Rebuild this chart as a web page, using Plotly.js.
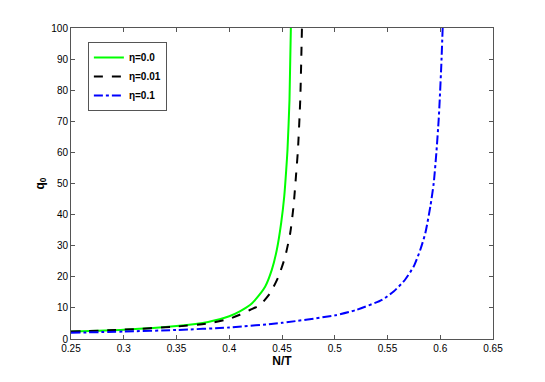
<!DOCTYPE html>
<html>
<head>
<meta charset="utf-8">
<script src="https://cdn.plot.ly/plotly-3.0.1.min.js"></script>
<style>
  html, body { margin: 0; padding: 0; background: #fff; }
  #plot { width: 545px; height: 382px; }
</style>
</head>
<body>
<div id="plot"></div>
<script>
// eta = 0.0
var xEta0 = [0.25, 0.30, 0.35, 0.38, 0.40, 0.41, 0.42, 0.4246, 0.4341, 0.4404, 0.4451, 0.4492, 0.4521, 0.4540, 0.4552, 0.4571, 0.4584];
var yEta0 = [2.4, 3.0, 4.2, 5.5, 7.3, 8.9, 11.0, 12.6, 16.9, 22.3, 28.7, 37.3, 45.8, 54.4, 60.8, 76.9, 100];

// eta = 0.01
var xEta001 = [0.25, 0.30, 0.35, 0.38, 0.40, 0.41, 0.42, 0.4293, 0.4388, 0.4467, 0.4530, 0.4578, 0.4609, 0.4632, 0.4651, 0.4673, 0.4689];
var yEta001 = [2.4, 3.0, 4.0, 5.0, 6.5, 7.8, 9.4, 11.0, 14.8, 20.1, 26.5, 34.1, 42.6, 52.2, 60.8, 76.9, 100];

// eta = 0.1
var xEta01 = [0.25, 0.30, 0.35, 0.40, 0.45, 0.50, 0.52, 0.5448, 0.5558, 0.5653, 0.5748, 0.5811, 0.5859, 0.5906, 0.5938, 0.5963, 0.5985, 0.5995, 0.6010, 0.6023];
var yEta01 = [2.0, 2.4, 2.9, 3.7, 5.2, 7.6, 9.3, 12.6, 15.3, 18.5, 23.3, 28.7, 34.1, 42.6, 50.1, 59.8, 70.5, 76.9, 88.0, 100];

var xTicks = [0.25, 0.3, 0.35, 0.4, 0.45, 0.5, 0.55, 0.6, 0.65];
var xTickText = ['0.25', '0.3', '0.35', '0.4', '0.45', '0.5', '0.55', '0.6', '0.65'];
var yTicks = [0, 10, 20, 30, 40, 50, 60, 70, 80, 90, 100];

var traces = [
  { x: xEta0, y: yEta0, type: 'scatter', mode: 'lines', name: '<b>η=0.0</b>',
    line: { color: 'rgb(0,255,0)', width: 2, shape: 'spline', smoothing: 0.6 } },
  { x: xEta001, y: yEta001, type: 'scatter', mode: 'lines', name: '<b>η=0.01</b>',
    line: { color: 'black', width: 2, dash: 'dash', shape: 'spline', smoothing: 0.6 } },
  { x: xEta01, y: yEta01, type: 'scatter', mode: 'lines', name: '<b>η=0.1</b>',
    line: { color: 'rgb(0,0,255)', width: 2, dash: 'dashdot', shape: 'spline', smoothing: 0.6 } }
];

var axisCommon = {
  showgrid: false, zeroline: false,
  showline: true, linecolor: '#555', linewidth: 1, mirror: 'allticks',
  ticks: 'inside', ticklen: 4, tickcolor: '#555',
  tickfont: { family: 'Liberation Sans, Arial, sans-serif', size: 10, color: '#000' }
};

var layout = {
  width: 545, height: 382,
  margin: { l: 71, r: 52, t: 28, b: 43 },
  paper_bgcolor: 'white', plot_bgcolor: 'white',
  showlegend: true,
  legend: {
    x: 0.04, y: 0.955, xanchor: 'left', yanchor: 'top',
    bgcolor: 'white', bordercolor: '#555', borderwidth: 1,
    font: { family: 'Liberation Sans, Arial, sans-serif', size: 10, color: '#000' },
    tracegroupgap: 0, itemwidth: 30
  },
  xaxis: Object.assign({}, axisCommon, {
    range: [0.25, 0.65], tickvals: xTicks, ticktext: xTickText,
    title: { text: '<b>N/T</b>', standoff: 0,
      font: { family: 'Liberation Sans, Arial, sans-serif', size: 12, color: '#000' } }
  }),
  yaxis: Object.assign({}, axisCommon, {
    range: [0, 100], tickvals: yTicks,
    title: { text: '<b>q<sub>0</sub></b>', standoff: 4,
      font: { family: 'Liberation Sans, Arial, sans-serif', size: 12, color: '#000' } }
  })
};

Plotly.newPlot('plot', traces, layout, { displayModeBar: false, staticPlot: true });
</script>
</body>
</html>
